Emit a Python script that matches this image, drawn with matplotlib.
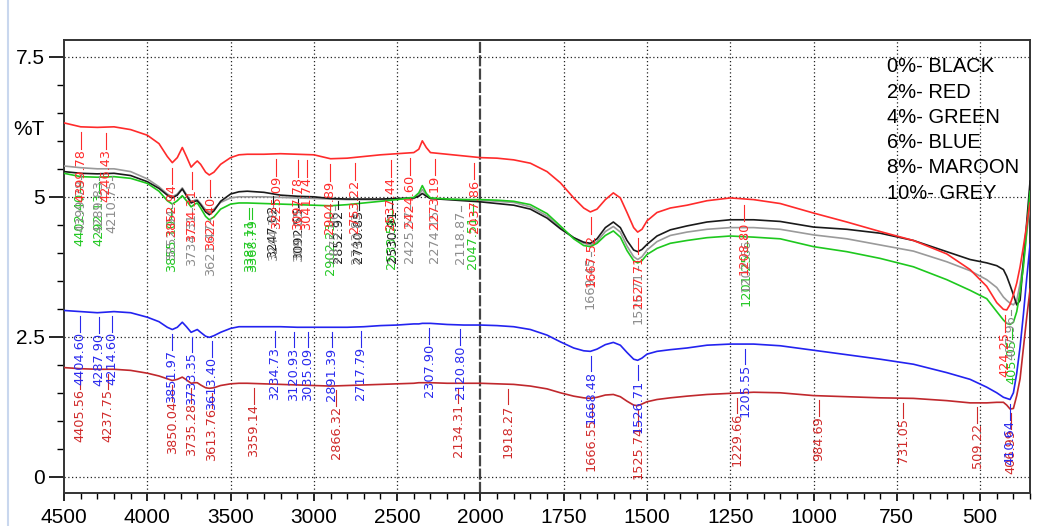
import numpy as np
import matplotlib

matplotlib.use("Agg")
from matplotlib import pyplot as plt
from matplotlib.lines import Line2D
from matplotlib.ticker import FixedLocator
import matplotlib.transforms as mtransforms

NARROW = ["Liberation Sans Narrow", "Liberation Sans", "DejaVu Sans"]
LABEL_FONT = ["DejaVu Sans"]

# wavenumber (cm-1), shared by every trace
wavenumber = [
    4500, 4400, 4300, 4200, 4100, 4000, 3930, 3880, 3850, 3820,
    3790, 3765, 3737, 3715, 3700, 3680, 3650, 3628, 3600, 3560,
    3500, 3450, 3400, 3300, 3200, 3100, 3000, 2900, 2800, 2700,
    2600, 2500, 2400, 2370, 2349, 2325, 2300, 2200, 2100, 2000,
    1950, 1900, 1850, 1800, 1760, 1720, 1690, 1670, 1650, 1625,
    1601, 1580, 1560, 1540, 1528, 1515, 1500, 1470, 1430, 1380,
    1320, 1250, 1180, 1100, 1000, 900, 800, 700, 600, 530,
    480, 450, 430, 420, 410, 400, 390, 380, 370, 360, 350,
]

t_black = [
    5.45, 5.42, 5.41, 5.42, 5.38, 5.27, 5.15, 5.03, 4.98, 5.03,
    5.14, 5.02, 4.89, 4.92, 4.93, 4.86, 4.73, 4.68, 4.75, 4.92,
    5.05, 5.09, 5.10, 5.08, 5.03, 5.01, 5.00, 4.97, 4.96, 4.96,
    4.96, 4.97, 4.98, 5.01, 5.06, 5.01, 4.97, 4.95, 4.93, 4.91,
    4.88, 4.85, 4.78, 4.62, 4.43, 4.27, 4.19, 4.17, 4.25, 4.45,
    4.55, 4.45, 4.22, 4.05, 4.02, 4.06, 4.15, 4.30, 4.41, 4.48,
    4.55, 4.59, 4.59, 4.56, 4.46, 4.42, 4.35, 4.22, 4.02, 3.88,
    3.82, 3.77, 3.70, 3.58, 3.42, 3.25, 3.07, 3.15, 3.85, 4.55, 5.28,
]
t_red = [
    6.32, 6.25, 6.24, 6.25, 6.20, 6.10, 5.95, 5.72, 5.61, 5.70,
    5.88, 5.72, 5.53, 5.60, 5.64, 5.58, 5.44, 5.39, 5.44, 5.58,
    5.70, 5.75, 5.76, 5.76, 5.77, 5.76, 5.75, 5.68, 5.69, 5.72,
    5.75, 5.77, 5.79, 5.85, 6.00, 5.88, 5.79, 5.76, 5.73, 5.70,
    5.69, 5.66, 5.60, 5.45, 5.25, 4.98, 4.80, 4.73, 4.78, 4.95,
    5.07, 4.98, 4.72, 4.45, 4.37, 4.42, 4.57, 4.72, 4.80, 4.85,
    4.93, 4.98, 4.95, 4.88, 4.71, 4.55, 4.38, 4.22, 3.98, 3.70,
    3.40, 3.11, 2.99, 2.98, 3.08, 3.25, 3.46, 3.75, 4.11, 4.50, 4.89,
]
t_green = [
    5.42, 5.36, 5.35, 5.36, 5.33, 5.24, 5.10, 4.93, 4.87, 4.93,
    5.02, 4.93, 4.82, 4.87, 4.89, 4.80, 4.65, 4.59, 4.64, 4.78,
    4.87, 4.89, 4.89, 4.88, 4.87, 4.86, 4.85, 4.84, 4.86, 4.89,
    4.92, 4.95, 4.99, 5.07, 5.20, 5.06, 4.98, 4.96, 4.95, 4.95,
    4.94, 4.92, 4.86, 4.70, 4.48, 4.25, 4.13, 4.11, 4.17, 4.31,
    4.39, 4.28, 4.04, 3.86, 3.82, 3.86, 3.97, 4.08, 4.17, 4.22,
    4.27, 4.30, 4.28, 4.25, 4.11, 4.02, 3.90, 3.75, 3.52, 3.33,
    3.18, 2.95, 2.80, 2.74, 2.72, 2.76, 2.95, 3.30, 3.75, 4.40, 5.10,
]
t_blue = [
    2.97, 2.95, 2.93, 2.95, 2.93, 2.85, 2.77, 2.67, 2.63, 2.67,
    2.76, 2.68, 2.58, 2.61, 2.63, 2.58, 2.51, 2.49, 2.52, 2.58,
    2.65, 2.68, 2.68, 2.68, 2.68, 2.67, 2.67, 2.67, 2.67, 2.68,
    2.70, 2.71, 2.73, 2.73, 2.74, 2.74, 2.74, 2.72, 2.71, 2.71,
    2.70, 2.68, 2.63, 2.53, 2.41, 2.30, 2.25, 2.24, 2.28, 2.36,
    2.40, 2.35, 2.22, 2.10, 2.08, 2.12, 2.19, 2.24, 2.27, 2.30,
    2.35, 2.37, 2.37, 2.34, 2.26, 2.18, 2.10, 2.01, 1.86, 1.74,
    1.60, 1.50, 1.42, 1.40, 1.38, 1.50, 1.85, 2.32, 2.90, 3.55, 4.15,
]
t_maroon = [
    1.95, 1.93, 1.92, 1.92, 1.90, 1.85, 1.80, 1.75, 1.72, 1.74,
    1.78, 1.73, 1.67, 1.68, 1.68, 1.64, 1.59, 1.58, 1.59, 1.63,
    1.66, 1.67, 1.67, 1.66, 1.65, 1.64, 1.63, 1.62, 1.63, 1.64,
    1.65, 1.66, 1.67, 1.68, 1.68, 1.68, 1.68, 1.67, 1.67, 1.67,
    1.66, 1.65, 1.62, 1.57, 1.50, 1.44, 1.41, 1.40, 1.42, 1.46,
    1.47, 1.43, 1.35, 1.28, 1.27, 1.30, 1.34, 1.38, 1.41, 1.44,
    1.47, 1.49, 1.51, 1.50, 1.45, 1.43, 1.41, 1.40, 1.36, 1.32,
    1.32, 1.33, 1.33, 1.28, 1.21, 1.22, 1.45, 1.75, 2.30, 2.85, 3.35,
]
t_grey = [
    5.55, 5.52, 5.50, 5.50, 5.45, 5.32, 5.18, 5.05, 5.00, 5.05,
    5.16, 5.04, 4.91, 4.94, 4.95, 4.88, 4.77, 4.73, 4.78, 4.90,
    4.98, 5.00, 5.00, 5.00, 4.99, 4.98, 4.97, 4.96, 4.95, 4.95,
    4.95, 4.96, 4.97, 5.03, 5.13, 5.03, 4.97, 4.96, 4.95, 4.94,
    4.92, 4.90, 4.82, 4.66, 4.45, 4.27, 4.17, 4.14, 4.20, 4.38,
    4.47, 4.37, 4.12, 3.93, 3.88, 3.93, 4.05, 4.20, 4.31, 4.37,
    4.42, 4.45, 4.45, 4.42, 4.32, 4.25, 4.14, 4.03, 3.84, 3.68,
    3.52, 3.38, 3.21, 3.15, 3.10, 3.07, 3.15, 3.45, 3.82, 4.35, 4.85,
]

# marked peak positions (cm-1) per trace
peaks_maroon = [4405.56, 4237.75, 3850.04, 3735.28, 3613.76, 3359.14, 2866.32,
                2134.31, 1918.27, 1666.55, 1525.74, 1229.66, 984.69, 731.05,
                509.22, 406.99]
peaks_blue = [4404.60, 4287.90, 4214.60, 3851.97, 3733.35, 3613.40, 3234.73,
              3120.93, 3035.09, 2891.39, 2717.79, 2307.90, 2120.80, 1668.48,
              1526.71, 1205.55, 410.64]
peaks_green = [4402.40, 4292.13, 3855.10, 3387.11, 3368.79, 2902.23, 2533.58,
               2047.51, 1201.25, 405.05]
peaks_black = [3247.02, 3092.55, 2852.92, 2730.85, 2530.91]
peaks_grey = [4399.78, 4289.83, 4210.75, 3852.94, 3734.31, 3621.47, 3244.38,
              3091.03, 2875.96, 2743.83, 2425.57, 2274.15, 2118.87, 1669.45,
              1526.71, 1202.66, 407.96]
peaks_red = [4399.78, 4246.43, 3852.94, 3734.31, 3622.40, 3225.09, 3097.78,
             3041.74, 2904.89, 2753.22, 2537.44, 2424.60, 2273.19, 2037.86,
             1667.52, 1527.71, 1208.80, 424.25]

legend_lines = ["0%- BLACK", "2%- RED", "4%- GREEN", "6%- BLUE", "8%- MAROON", "10%- GREY"]

x_major = [4500, 4000, 3500, 3000, 2500, 2000, 1750, 1500, 1250, 1000, 750, 500]
y_major = [0, 2.5, 5, 7.5]


def forward(x):
    x = np.asarray(x, dtype=float)
    return np.where(x >= 2000, x, 2 * x - 2000)


def inverse(u):
    u = np.asarray(u, dtype=float)
    return np.where(u >= 2000, u, (u + 2000) / 2)


def add_peak_labels(axis, trace, peaks, color, gap, lead, z):
    xs = np.asarray(wavenumber, dtype=float)[::-1]
    ys = np.asarray(trace, dtype=float)[::-1]
    for peak in peaks:
        level = np.interp(peak, xs, ys)
        top = level - gap
        bottom = top - lead
        if lead > 0:
            axis.plot([peak, peak], [top, bottom], color=color, lw=0.8, zorder=z)
        axis.text(peak, bottom, f"{peak:.2f}", rotation=90, ha="center", va="top",
                  fontsize=9.3, color=color, family=LABEL_FONT, zorder=z)


fig = plt.figure(figsize=(10.43, 5.26), dpi=100)
ax = fig.add_axes([0.0614, 0.0627, 0.9262, 0.8612])
ax.set_xscale("function", functions=(forward, inverse))
ax.set_xlim(4500, 350)
ax.set_ylim(-0.29, 7.8)

# grid
for xv in x_major[1:]:
    if xv == 2000:
        ax.axvline(xv, color="#444444", lw=1.6, ls=(0, (5, 1)), zorder=1)
    else:
        ax.axvline(xv, color="#222222", lw=0.9, ls=(0, (1, 2)), zorder=1)
for yv in y_major:
    ax.axhline(yv, color="#222222", lw=0.9, ls=(0, (1, 2)), zorder=1)

traces = [
    (t_maroon, "#c0282d"),
    (t_blue, "#2323f0"),
    (t_grey, "#9a9a9a"),
    (t_black, "#1a1a1a"),
    (t_green, "#1ec81e"),
    (t_red, "#ff2b2b"),
]
for trace, color in traces:
    ax.plot(wavenumber, trace, color=color, lw=1.2, zorder=3)

add_peak_labels(ax, t_maroon, peaks_maroon, "#d02a2a", 0.08, 0.28, 4)
add_peak_labels(ax, t_blue, peaks_blue, "#2a2aee", 0.08, 0.28, 5)
add_peak_labels(ax, t_green, peaks_green, "#22c822", 0.08, 0.2, 6)
add_peak_labels(ax, t_black, peaks_black, "#222222", 0.04, 0.15, 7)
add_peak_labels(ax, t_grey, peaks_grey, "#8c8c8c", 0.12, 0.08, 8)
add_peak_labels(ax, t_red, peaks_red, "#ff2b2b", 0.1, 0.3, 9)

# ticks
minor_x = list(range(4500, 2000, -100)) + list(range(2000, 349, -50))
ax.xaxis.set_major_locator(FixedLocator(x_major))
ax.xaxis.set_minor_locator(FixedLocator(minor_x))
ax.set_xticklabels([str(v) for v in x_major])
ax.yaxis.set_major_locator(FixedLocator(y_major))
ax.yaxis.set_minor_locator(FixedLocator(np.arange(0, 7.6, 0.5)))
ax.set_yticklabels(["0", "2.5", "5", "7.5"])
ax.tick_params(axis="x", which="major", length=6, width=1.2, pad=5, labelsize=15)
ax.tick_params(axis="x", which="minor", length=4, width=1.0)
ax.tick_params(axis="y", which="major", length=11, width=1.2, pad=3, labelsize=15)
ax.tick_params(axis="y", which="minor", length=5, width=1.0)
for label in ax.get_xticklabels() + ax.get_yticklabels():
    label.set_family(NARROW)

for spine in ax.spines.values():
    spine.set_linewidth(1.4)
    spine.set_color("#333333")

trans = mtransforms.blended_transform_factory(ax.transAxes, ax.transData)
ax.text(-0.02, 6.2, "%T", transform=trans, ha="right", va="center",
        fontsize=15, family=NARROW)

ax.text(0.852, 0.962, "\n".join(legend_lines), transform=ax.transAxes,
        ha="left", va="top", fontsize=14.5, family=NARROW, linespacing=1.42, zorder=10)

fig.add_artist(Line2D([0.008, 0.008], [0.0, 1.0], color="#c9d7ee", lw=1.5))

fig.savefig("out.png", dpi=100)
plt.close(fig)
